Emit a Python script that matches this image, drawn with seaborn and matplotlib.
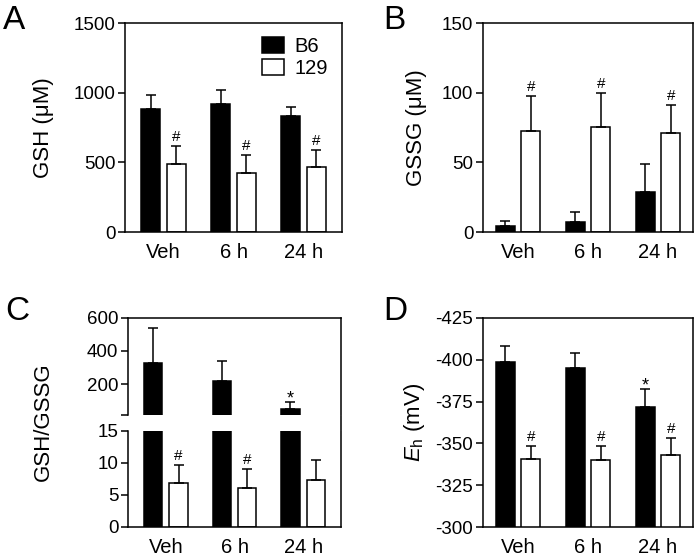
import numpy as np
import pandas as pd
import matplotlib
matplotlib.use("Agg")
import matplotlib.pyplot as plt
from matplotlib.lines import Line2D
from matplotlib.patches import Patch
import seaborn as sns

# ---------------- data ----------------
times = ["Veh", "6 h", "24 h"]
strains = ["B6", "129"]

gsh_b6 = [880, 920, 830]
gsh_b6_sd = [100, 100, 70]
gsh_129 = [485, 425, 470]
gsh_129_sd = [130, 130, 120]
gsh_marks_b6 = ["", "", ""]
gsh_marks_129 = ["#", "#", "#"]

gssg_b6 = [4.5, 7, 29]
gssg_b6_sd = [3.5, 7, 19.5]
gssg_129 = [72.5, 75.5, 71]
gssg_129_sd = [25, 24, 20]
gssg_marks_b6 = ["", "", ""]
gssg_marks_129 = ["#", "#", "#"]

ratio_b6 = [325, 220, 52]
ratio_b6_sd = [215, 118, 43]
ratio_129 = [6.8, 6.1, 7.3]
ratio_129_sd = [2.8, 2.9, 3.2]
ratio_marks_b6 = ["", "", "*"]
ratio_marks_129 = ["#", "#", ""]

eh_b6 = [-398.5, -395, -372]
eh_b6_sd = [9.5, 9, 10.5]
eh_129 = [-341, -340, -343]
eh_129_sd = [7.5, 8.5, 10]
eh_marks_b6 = ["", "", "*"]
eh_marks_129 = ["#", "#", "#"]

# ---------------- style ----------------
sns.set_style("ticks")
plt.rcParams["font.family"] = ["Liberation Sans", "DejaVu Sans"]
plt.rcParams["mathtext.fontset"] = "custom"
plt.rcParams["mathtext.rm"] = "Liberation Sans"
plt.rcParams["mathtext.it"] = "Liberation Sans:italic"
plt.rcParams["axes.linewidth"] = 1.1
plt.rcParams["axes.edgecolor"] = "black"
plt.rcParams["text.color"] = "black"
plt.rcParams["axes.labelcolor"] = "black"
plt.rcParams["xtick.color"] = "black"
plt.rcParams["ytick.color"] = "black"
plt.rcParams["axes.unicode_minus"] = False

palette = {"B6": "black", "129": "white"}
W, H = 697, 560
fig = plt.figure(figsize=(W / 100, H / 100), dpi=100)


def px_axes(x0, y0, x1, y1):
    return fig.add_axes([x0 / W, 1 - y1 / H, (x1 - x0) / W, (y1 - y0) / H])


def make_df(b6, s129):
    return pd.DataFrame({
        "time": times * 2,
        "strain": ["B6"] * 3 + ["129"] * 3,
        "value": list(b6) + list(s129),
    })


def bars(ax, b6, s129):
    df = make_df(b6, s129)
    sns.barplot(data=df, x="time", y="value", hue="strain", order=times,
                hue_order=strains, palette=palette, edgecolor="black",
                linewidth=1.1, width=0.74, gap=0.27, errorbar=None,
                legend=False, ax=ax)
    pts = sorted([(p.get_x() + p.get_width() / 2) for p in ax.patches])
    return pts


def errs(ax, centers, b6, b6sd, s129, s129sd, mb6, m129, down=False,
         draw=(True,) * 6):
    means, sds, marks = [], [], []
    for i in range(3):
        means += [b6[i], s129[i]]
        sds += [b6sd[i], s129sd[i]]
        marks += [mb6[i], m129[i]]
    for k, (x, m, s, mk) in enumerate(zip(centers, means, sds, marks)):
        if not draw[k]:
            continue
        yerr = [[s], [0]] if down else [[0], [s]]
        ax.errorbar([x], [m], yerr=yerr, fmt="none", ecolor="black",
                    elinewidth=1.1, capsize=3.8, capthick=1.1, zorder=3)
        if mk:
            top = m - s if down else m + s
            if mk == "#":
                ax.annotate(mk, (x, top), xytext=(0, 1.5),
                            textcoords="offset points", ha="center",
                            va="bottom", fontsize=11, clip_on=False)
            else:
                ax.annotate(mk, (x, top), xytext=(0, -4),
                            textcoords="offset points", ha="center",
                            va="bottom", fontsize=13, clip_on=False)


def style(ax):
    ax.tick_params(axis="y", length=5, width=1.1, pad=2, labelsize=13.5,
                   direction="out")
    ax.tick_params(axis="x", length=0, pad=8, labelsize=14.5)
    ax.set_xlabel("")
    ax.set_xlim(-0.55, 2.55)
    for s in ax.spines.values():
        s.set_visible(True)
        s.set_linewidth(1.1)
        s.set_color("black")


# ---------- Panel A ----------
axA = px_axes(125, 23, 342, 232)
c = bars(axA, gsh_b6, gsh_129)
errs(axA, c, gsh_b6, gsh_b6_sd, gsh_129, gsh_129_sd, gsh_marks_b6, gsh_marks_129)
axA.set_ylim(0, 1500)
axA.set_yticks([0, 500, 1000, 1500])
style(axA)
axA.set_ylabel("GSH (\u03bcM)", fontsize=16, labelpad=14)
handles = [Patch(facecolor=palette[s], edgecolor="black", linewidth=1.1, label=s)
           for s in strains]
axA.legend(handles=handles, loc="upper right", frameon=False, fontsize=14.5,
           handlelength=1.1, handleheight=0.8, handletextpad=0.5,
           labelspacing=0.15, borderaxespad=0.3, bbox_to_anchor=(1.0, 1.0))

# ---------- Panel B ----------
axB = px_axes(483, 23, 693, 232)
c = bars(axB, gssg_b6, gssg_129)
errs(axB, c, gssg_b6, gssg_b6_sd, gssg_129, gssg_129_sd, gssg_marks_b6, gssg_marks_129)
axB.set_ylim(0, 150)
axB.set_yticks([0, 50, 100, 150])
style(axB)
axB.set_xlim(-0.5, 2.5)
axB.set_ylabel("GSSG (\u03bcM)", fontsize=16, labelpad=11)

# ---------- Panel C (broken axis) ----------
axCu = px_axes(128, 317.7, 341, 415)
axCl = px_axes(128, 430.7, 341, 526.7)
cu = bars(axCu, ratio_b6, ratio_129)
cl = bars(axCl, ratio_b6, ratio_129)
errs(axCu, cu, ratio_b6, ratio_b6_sd, ratio_129, ratio_129_sd,
     ratio_marks_b6, ratio_marks_129, draw=(True, False) * 3)
errs(axCl, cl, ratio_b6, ratio_b6_sd, ratio_129, ratio_129_sd,
     ratio_marks_b6, ratio_marks_129, draw=(False, True) * 3)
axCu.set_ylim(15, 600)
axCu.set_yticks([15, 200, 400, 600])
axCu.set_yticklabels(["", "200", "400", "600"])
axCl.set_ylim(0, 15)
axCl.set_yticks([0, 5, 10, 15])
style(axCu)
style(axCl)
axCu.set_xticks([])
axCu.spines["bottom"].set_visible(False)
axCl.spines["top"].set_visible(False)
axCu.set_ylabel("")
axCl.set_ylabel("")
fig.add_artist(Line2D([341 / W, 341 / W], [1 - 416 / H, 1 - 430 / H],
                      color="black", linewidth=1.1))
fig.text(43 / W, 1 - 422 / H, "GSH/GSSG", rotation=90, ha="center",
         va="center", fontsize=16)

# ---------- Panel D ----------
axD = px_axes(483, 317.7, 693, 527.3)
c = bars(axD, eh_b6, eh_129)
errs(axD, c, eh_b6, eh_b6_sd, eh_129, eh_129_sd, eh_marks_b6, eh_marks_129,
     down=True)
axD.set_ylim(-300, -425)
axD.set_yticks([-425, -400, -375, -350, -325, -300])
style(axD)
axD.set_xlim(-0.5, 2.5)
axD.set_ylabel(r"$E_\mathrm{h}$ (mV)", fontsize=16, labelpad=6)

# ---------- panel letters ----------
for letter, x, y in [("A", 3, 29), ("B", 383, 29), ("C", 5, 320), ("D", 383, 320)]:
    fig.text(x / W, 1 - y / H, letter, fontsize=24, ha="left", va="baseline")

fig.savefig("out.png", dpi=100)
